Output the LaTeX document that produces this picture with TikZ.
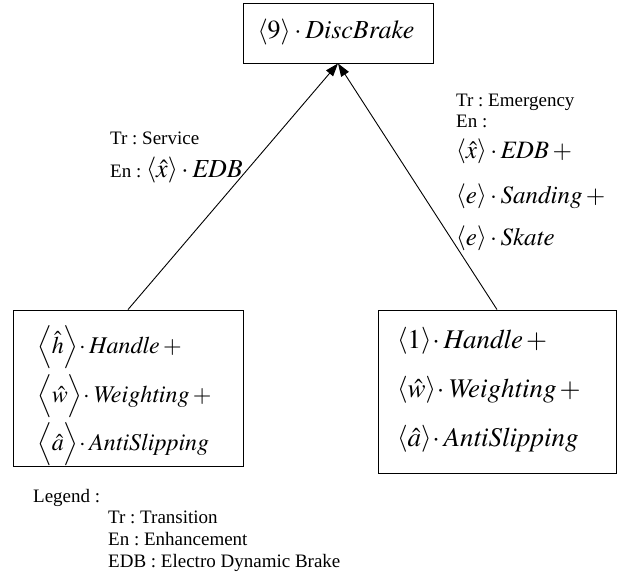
\documentclass[tikz,border=0pt]{standalone}
\usepackage{mathptmx}
\usepackage[no-math]{fontspec}
\setmainfont{Liberation Serif}
\usetikzlibrary{arrows.meta}
\frenchspacing
\begin{document}
\begin{tikzpicture}[x=1pt,y=-1pt,
  box/.style={draw, line width=0.9pt, inner sep=0pt},
  txt/.style={anchor=base west, inner sep=0pt, font=\fontsize{19}{19}\selectfont},
  mth/.style={anchor=base west, inner sep=0pt, font=\fontsize{24}{24}\selectfont},
  mthlbl/.style={anchor=base west, inner sep=0pt, font=\fontsize{25}{25}\selectfont},
  mthbig/.style={anchor=base west, inner sep=0pt, font=\fontsize{27}{27}\selectfont},
  arr/.style={line width=0.9pt, -{Triangle[length=13pt,width=9pt]}}]
\useasboundingbox (0,0) rectangle (628,579);
% boxes
\node[box, minimum width=190pt, minimum height=60pt] (tb) at (338,33) {};
\node[box, minimum width=230pt, minimum height=156pt] (lb) at (128,388) {};
\node[box, minimum width=238pt, minimum height=163pt] (rb) at (497,391.5) {};
% connectors
\draw[arr] (lb.north) -- (tb.south);
\draw[arr] (rb.north) -- (tb.south);
% top box text
\node[inner sep=0pt, anchor=base, font=\fontsize{26}{26}\selectfont] (t1) at (336,38) {$\langle 9\rangle\cdot \mathit{DiscBrake}$};
% left box text
\node[mth] (l1) at (37,353) {$\Bigl\langle\hat{h}\Bigr\rangle\!\cdot\mathit{Handle}+{}$};
\node[mth] (l2) at (37,402) {$\Bigl\langle\hat{w}\Bigr\rangle\!\cdot\mathit{Weighting}+{}$};
\node[mth] (l3) at (37,450) {$\Bigl\langle\hat{a}\Bigr\rangle\!\cdot\mathit{AntiSlipping}$};
% right box text
\node[mthbig] (r1) at (397,348) {$\left\langle\vphantom{\hat{x}} 1\right\rangle\!\cdot\mathit{Handle}\mskip2mu+$};
\node[mthbig] (r2) at (397,397) {$\left\langle\hat{w}\right\rangle\!\cdot\mathit{Weighting}\mskip2mu+$};
\node[mthbig] (r3) at (397,446) {$\left\langle\hat{a}\right\rangle\!\cdot\mathit{AntiSlipping}$};
% left connector label
\node[txt] (ls1) at (110,144) {Tr : Service};
\node[txt] (ls2) at (110,177) {En : {\fontsize{26}{26}\selectfont$\left\langle\hat{x}\right\rangle\cdot\mathit{EDB}$}};
% right connector label
\node[txt] (rs1) at (456,106) {Tr : Emergency};
\node[txt] (rs2) at (456,127) {En :};
\node[mthlbl] (rs3) at (456,158) {$\left\langle\hat{x}\right\rangle\cdot\mathit{EDB}+{}$};
\node[mthlbl] (rs4) at (456,203) {$\left\langle\vphantom{\hat{x}}e\right\rangle\cdot\mathit{Sanding}+{}$};
\node[mthlbl] (rs5) at (456,245) {$\left\langle\vphantom{\hat{x}}e\right\rangle\cdot\mathit{Skate}$};
% legend
\node[txt] (lg0) at (33,502) {Legend :};
\node[txt] (lg1) at (108,523) {Tr : Transition};
\node[txt] (lg2) at (108,545) {En : Enhancement};
\node[txt] (lg3) at (108,567) {EDB : Electro Dynamic Brake};
\end{tikzpicture}
\end{document}
